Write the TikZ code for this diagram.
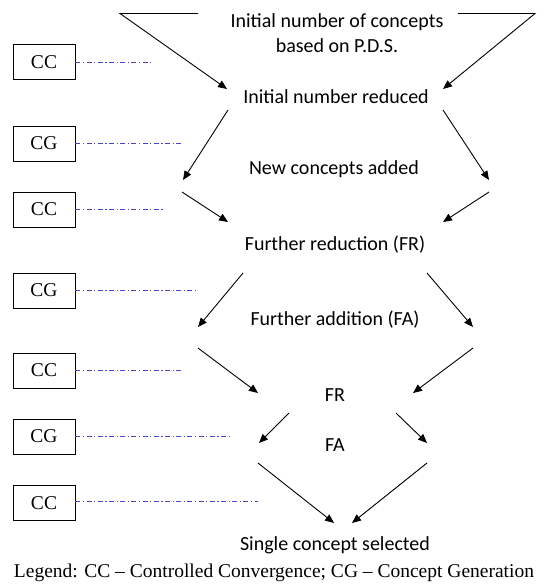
\documentclass[tikz,border=0pt]{standalone}
\usepackage{fontspec}
\setmainfont{Liberation Serif}
\newfontfamily\calfont{Carlito}
\usetikzlibrary{arrows.meta}
\begin{document}
\begin{tikzpicture}[x=1pt,y=-1pt,
  lbl/.style={font=\calfont\fontsize{20}{22}\selectfont, inner sep=0pt, anchor=center},
  arr/.style={draw=black, line width=0.9pt, -{Triangle[length=9pt,width=7.5pt]}},
  boxx/.style={draw=black, line width=0.9pt, minimum width=62pt, minimum height=35pt, inner sep=0pt, font=\fontsize{19.5}{21}\selectfont},
  dd/.style={draw={rgb,255:red,70;green,70;blue,190}, line width=0.8pt, dash pattern=on 5pt off 2.5pt on 1.2pt off 2.5pt}]
\useasboundingbox (0,0) rectangle (543,585);
% text nodes
\node[lbl] (t1) at (337,22) {Initial number of concepts};
\node[lbl] (t1b) at (337,46) {based on P.D.S.};
\node[lbl] (t2) at (336,97) {Initial number reduced};
\node[lbl] (t3) at (334,169) {New concepts added};
\node[lbl] (t4) at (335,245) {Further reduction (FR)};
\node[lbl] (t5) at (335,320) {Further addition (FA)};
\node[lbl] (t6) at (335,395) {FR};
\node[lbl] (t7) at (335,445) {FA};
\node[lbl] (t8) at (335,545) {Single concept selected};
\node[font=\fontsize{19.5}{21}\selectfont, inner sep=0pt] (leg) at (274,573) {Legend: CC -- Controlled Convergence; CG -- Concept Generation};
% boxes
\node[boxx] (b1) at (44,62) {CC};
\node[boxx] (b2) at (44,143.5) {CG};
\node[boxx] (b3) at (44,209.5) {CC};
\node[boxx] (b4) at (44,290.5) {CG};
\node[boxx] (b5) at (44,370.5) {CC};
\node[boxx] (b6) at (44,436.5) {CG};
\node[boxx] (b7) at (44,503) {CC};
% dash-dot leaders
\coordinate (e1) at (152,62);
\coordinate (e2) at (183,143.5);
\coordinate (e3) at (163,209);
\coordinate (e4) at (195,290);
\coordinate (e5) at (183,370);
\coordinate (e6) at (229,436);
\coordinate (e7) at (258,501);
\foreach \i in {1,...,7} { \draw[dd] (b\i.east |- e\i) -- (e\i); }
% arrows: top funnel
\coordinate (a0l) at (198,13.5); \coordinate (a1l) at (120,13.5); \coordinate (a2l) at (227,89);
\coordinate (a0r) at (458,13.5); \coordinate (a1r) at (535,13.5); \coordinate (a2r) at (443,89);
\draw[arr] (a0l) -- (a1l) -- (a2l);
\draw[arr] (a0r) -- (a1r) -- (a2r);
% level 2
\coordinate (s2l) at (228,110); \coordinate (e2l) at (183,180);
\coordinate (s2r) at (443,110); \coordinate (e2r) at (489,180);
\draw[arr] (s2l) -- (e2l);
\draw[arr] (s2r) -- (e2r);
% level 3
\coordinate (s3l) at (182,192); \coordinate (e3l) at (228,222);
\coordinate (s3r) at (489,192); \coordinate (e3r) at (443,222);
\draw[arr] (s3l) -- (e3l);
\draw[arr] (s3r) -- (e3r);
% level 4
\coordinate (s4l) at (243,273); \coordinate (e4l) at (198,327);
\coordinate (s4r) at (427,273); \coordinate (e4r) at (473,327);
\draw[arr] (s4l) -- (e4l);
\draw[arr] (s4r) -- (e4r);
% level 5
\coordinate (s5l) at (198,348); \coordinate (e5l) at (258,393);
\coordinate (s5r) at (473,348); \coordinate (e5r) at (413,393);
\draw[arr] (s5l) -- (e5l);
\draw[arr] (s5r) -- (e5r);
% level 6
\coordinate (s6l) at (289,413); \coordinate (e6l) at (259,443);
\coordinate (s6r) at (396,413); \coordinate (e6r) at (427,443);
\draw[arr] (s6l) -- (e6l);
\draw[arr] (s6r) -- (e6r);
% level 7
\coordinate (s7l) at (258,463); \coordinate (e7l) at (334,523);
\coordinate (s7r) at (427,463); \coordinate (e7r) at (352,523);
\draw[arr] (s7l) -- (e7l);
\draw[arr] (s7r) -- (e7r);
\end{tikzpicture}
\end{document}
